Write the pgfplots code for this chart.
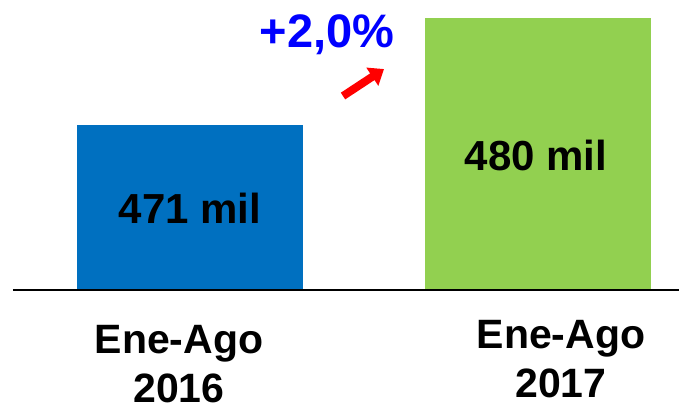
\documentclass[border=0pt]{standalone}
\usepackage{fontspec}
\setmainfont{Liberation Sans}
\usepackage{pgfplots}
\pgfplotsset{compat=1.18}
\usetikzlibrary{arrows.meta}
\definecolor{barblue}{HTML}{0070C0}
\definecolor{bargreen}{HTML}{92D050}
\definecolor{pctblue}{HTML}{0000FF}
\begin{document}
\begin{tikzpicture}
\begin{axis}[
  at={(0pt,0pt)}, anchor=south west,
  scale only axis,
  width=666pt, height=290pt,
  xmin=-0.5086, xmax=1.4052,
  ymin=457.1, ymax=481.5,
  axis x line*=bottom,
  hide y axis,
  axis line style={black, line width=1.6pt, -},
  axis on top,
  xtick={-0.0316,1.066},
  xticklabels={{Ene-Ago\\2016},{Ene-Ago\\2017}},
  major tick length=0pt,
  xticklabel style={font=\bfseries\fontsize{41}{49}\selectfont, align=center, anchor=north, inner sep=0pt, yshift={-35pt+5pt*\ticknum}},
]
\addplot[ybar, bar shift=0pt, bar width=0.6494, fill=barblue, draw=none] coordinates {(0,471)};
\addplot[ybar, bar shift=0pt, bar width=0.6494, fill=bargreen, draw=none] coordinates {(1,480)};
\addplot[draw=none, mark=none, nodes near coords, point meta=explicit symbolic,
  every node near coord/.append style={anchor=center, font=\bfseries\fontsize{42}{48}\selectfont, text=black}]
  coordinates {(0,464.0)[471 mil] (0.994,468.4)[480 mil]};
\node[anchor=base, font=\bfseries\fontsize{47}{52}\selectfont, text=pctblue, inner sep=0pt] at (axis cs:0.3937,477.54) {+2,0\%};
\draw[red, line width=8pt, -{Triangle[length=14pt,width=21pt]}] (axis cs:0.4397,473.42) -- (axis cs:0.5575,475.69);
\end{axis}
\pgfresetboundingbox
\useasboundingbox (-13pt,-114pt) rectangle (666pt,290pt);
\end{tikzpicture}
\end{document}
